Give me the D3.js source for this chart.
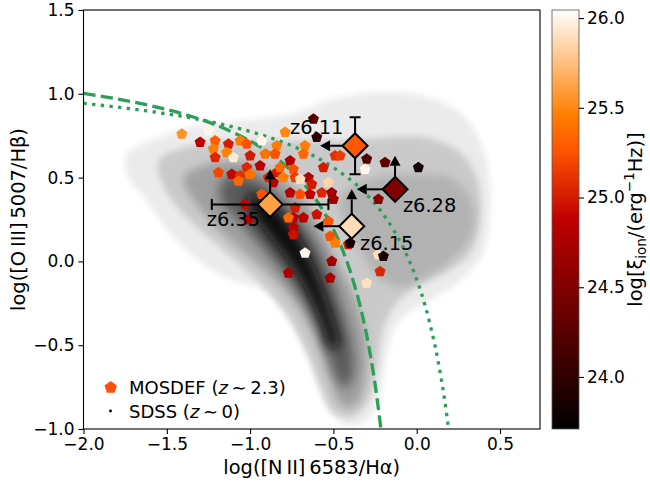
<!DOCTYPE html>
<html><head><meta charset="utf-8">
<script src="https://cdn.jsdelivr.net/npm/d3@7"></script>
<style>body{margin:0;background:#fff} text{font-family:"DejaVu Sans",sans-serif;fill:#000}</style>
</head><body><svg id="c" width="650" height="481"></svg>
<script>
// ---------------- data ----------------
const xTicks = [-2.0, -1.5, -1.0, -0.5, 0.0, 0.5];
const yTicks = [-1.0, -0.5, 0.0, 0.5, 1.0, 1.5];
const cbTicks = [24.0, 24.5, 25.0, 25.5, 26.0];

// MOSDEF galaxies: log NII/Ha, log OIII/Hb, log xi_ion
const mosdefX = [-1.41,-1.25,-1.30,-1.21,-1.13,-1.06,-1.02,-0.93,-0.84,-0.79,-1.22,-1.14,-1.21,-1.00,-0.91,-0.85,-1.10,-0.94,-1.02,-1.19,-1.11,-1.06,-1.07,-1.00,-0.89,-0.84,-0.67,-0.68,-0.62,-0.60,-0.49,-0.46,-0.30,-0.31,-0.19,0.01,-0.56,-0.76,-0.82,-0.74,-0.65,-0.80,-0.73,-0.70,-0.63,-0.53,-0.57,-0.51,-0.76,-0.70,-0.64,-0.86,-0.23,-0.73,-0.68,-0.74,-0.77,-0.60,-0.53,-0.74,-0.74,-0.52,-0.49,-0.41,-0.40,-0.67,-0.23,-0.20,-0.51,-0.22,-0.77,-0.52,-0.30,-1.03,-1.01,-0.93,-0.50];
const mosdefY = [0.76,0.78,0.71,0.72,0.70,0.72,0.70,0.72,0.69,0.77,0.67,0.65,0.62,0.63,0.64,0.64,0.62,0.57,0.56,0.53,0.52,0.51,0.48,0.52,0.50,0.53,0.69,0.64,0.85,0.74,0.63,0.63,0.61,0.55,0.59,0.56,0.56,0.60,0.56,0.55,0.50,0.50,0.50,0.49,0.46,0.47,0.41,0.41,0.41,0.40,0.40,0.47,0.37,0.32,0.26,0.26,0.26,0.28,0.24,0.20,0.16,0.15,0.11,0.10,0.11,0.05,0.04,0.03,0.00,-0.06,-0.07,-0.10,-0.13,0.34,0.25,0.40,0.37];
const mosdefXi = [25.55,26.0,24.85,25.3,25.0,25.45,25.25,26.0,25.45,25.5,25.45,25.45,25.05,25.0,25.4,25.25,25.95,24.85,25.05,25.2,24.9,25.1,25.35,25.4,25.05,25.0,25.45,25.35,24.25,24.0,25.1,25.15,24.2,26.0,24.3,23.85,25.0,24.8,25.35,25.25,24.8,25.45,25.15,25.9,25.0,25.85,25.05,24.7,24.8,25.25,24.85,24.85,24.55,25.0,24.85,24.8,25.35,24.95,25.25,24.8,24.95,25.25,25.45,25.0,23.85,26.0,25.9,23.85,24.7,25.05,24.75,24.7,25.9,24.9,24.85,25.25,24.7];

// z~6 galaxies
const hzNames = ["z6.11", "z6.28", "z6.35", "z6.15"];
const hzX = [-0.37, -0.13, -0.88, -0.39];
const hzY = [0.69, 0.43, 0.34, 0.21];
const hzXi = [25.28, 24.5, 25.62, 25.88];
const hzXerr = [0, 0, 0.35, 0];
const hzYerr = [0.17, 0, 0, 0];
const hzXlimTip = [-0.58, -0.36, null, -0.62];   // upper limits in NII/Ha
const hzYlimTip = [null, 0.63, 0.55, 0.43];      // lower limits in OIII/Hb
const hzLabelX = [-0.76, -0.083, -1.26, -0.34];
const hzLabelY = [0.76, 0.295, 0.211, 0.068];

// Kauffmann+03 (dashed) and Kewley+01 (dotted) demarcation curves
const kaufX = [-2.0,-1.8,-1.6,-1.4,-1.2,-1.0,-0.9,-0.8,-0.7,-0.6,-0.5,-0.45,-0.4,-0.35,-0.325,-0.3,-0.275,-0.25,-0.23,-0.215];
const kaufY = [1.002,0.970,0.930,0.879,0.812,0.719,0.658,0.582,0.487,0.362,0.191,0.080,-0.056,-0.225,-0.327,-0.443,-0.577,-0.733,-0.879,-1.0];
const kewX = [-2.0,-1.8,-1.6,-1.4,-1.2,-1.0,-0.8,-0.6,-0.4,-0.3,-0.2,-0.1,-0.05,0.0,0.05,0.1,0.125,0.15,0.17,0.19];
const kewY = [0.943,0.921,0.895,0.864,0.825,0.775,0.710,0.620,0.489,0.398,0.280,0.120,0.017,-0.108,-0.262,-0.459,-0.578,-0.716,-0.843,-0.99];

// SDSS density cloud: iso-density outlines (data coords) and their grey levels
const sdssLevelGrey = ["#ebebeb", "#cacaca", "#b2b2b2", "#a0a0a0", "#5a5a5a", "#0e0e0e"];
const sdssLevel0 = [[-1.74,0.64],[-1.55,0.74],[-1.35,0.80],[-1.05,0.84],[-0.75,0.88],[-0.50,0.97],[-0.20,1.01],[0.10,0.97],[0.30,0.85],[0.42,0.60],[0.44,0.30],[0.40,0.05],[0.28,-0.10],[0.10,-0.22],[-0.10,-0.35],[-0.18,-0.55],[-0.22,-0.80],[-0.30,-0.95],[-0.42,-0.98],[-0.55,-0.85],[-0.62,-0.60],[-0.72,-0.40],[-0.90,-0.18],[-1.14,-0.10],[-1.30,0.00],[-1.48,0.17],[-1.62,0.36],[-1.74,0.52]];
const sdssLevel1 = [[-1.55,0.60],[-1.30,0.70],[-1.00,0.72],[-0.70,0.72],[-0.45,0.72],[-0.20,0.74],[0.05,0.74],[0.25,0.66],[0.36,0.50],[0.38,0.25],[0.32,0.05],[0.18,-0.06],[0.00,-0.15],[-0.12,-0.25],[-0.20,-0.40],[-0.24,-0.65],[-0.30,-0.85],[-0.40,-0.93],[-0.50,-0.90],[-0.58,-0.75],[-0.66,-0.55],[-0.78,-0.32],[-0.95,-0.12],[-1.15,0.06],[-1.38,0.26],[-1.52,0.45]];
const sdssLevel2 = [[-0.45,0.40],[-0.25,0.50],[0.00,0.52],[0.20,0.50],[0.32,0.38],[0.34,0.20],[0.25,0.05],[0.08,-0.08],[-0.08,-0.15],[-0.20,-0.12],[-0.30,0.00],[-0.38,0.15],[-0.45,0.28]];
const sdssLevel3 = [[-1.40,0.50],[-1.15,0.60],[-0.90,0.55],[-0.70,0.40],[-0.58,0.20],[-0.48,0.00],[-0.38,-0.20],[-0.31,-0.45],[-0.31,-0.70],[-0.37,-0.86],[-0.45,-0.86],[-0.52,-0.70],[-0.58,-0.52],[-0.68,-0.32],[-0.82,-0.14],[-1.00,0.02],[-1.20,0.20],[-1.35,0.38]];
const sdssLevel4 = [[-1.15,0.50],[-0.98,0.50],[-0.82,0.38],[-0.68,0.22],[-0.56,0.02],[-0.47,-0.22],[-0.40,-0.45],[-0.38,-0.66],[-0.43,-0.76],[-0.49,-0.68],[-0.55,-0.50],[-0.64,-0.30],[-0.76,-0.12],[-0.90,0.05],[-1.05,0.22],[-1.18,0.38]];
const sdssLevel5 = [[-1.02,0.40],[-0.90,0.36],[-0.76,0.22],[-0.66,0.06],[-0.57,-0.15],[-0.50,-0.36],[-0.47,-0.50],[-0.52,-0.52],[-0.57,-0.38],[-0.64,-0.22],[-0.74,-0.04],[-0.86,0.12],[-0.98,0.28]];
const sdssLevels = [sdssLevel0, sdssLevel1, sdssLevel2, sdssLevel3, sdssLevel4, sdssLevel5];
const sdssBlur = [3, 3, 4, 4, 6, 6];

// ---------------- drawing ----------------
const svg = d3.select("#c");
const L = 83.5, R = 540, T = 10, B = 429;
const x = d3.scaleLinear().domain([-2, 0.74]).range([L, R]);
const y = d3.scaleLinear().domain([-1, 1.5]).range([B, T]);
const cbMin = 23.71, cbMax = 26.045;
const cbY = d3.scaleLinear().domain([cbMin, cbMax]).range([B, T]);
function heat(v) {
  let t = Math.max(0, Math.min(1, (v - cbMin) / (cbMax - cbMin)));
  const c = a => Math.round(255 * Math.max(0, Math.min(1, a)));
  return d3.rgb(c(1.5 * t), c(2 * t - 1), c(4 * t - 3)).toString();
}
const defs = svg.append("defs");
defs.append("clipPath").attr("id", "clip").append("rect")
  .attr("x", L).attr("y", T).attr("width", R - L).attr("height", B - T);
sdssBlur.forEach((b, i) => {
  defs.append("filter").attr("id", "bl" + i).attr("x", "-20%").attr("y", "-20%").attr("width", "140%").attr("height", "140%")
    .append("feGaussianBlur").attr("stdDeviation", b);
});

const plot = svg.append("g").attr("clip-path", "url(#clip)");
const areaLine = d3.line().x(d => x(d[0])).y(d => y(d[1])).curve(d3.curveCatmullRomClosed);
sdssLevels.forEach((poly, i) => {
  plot.append("path").attr("d", areaLine(poly)).attr("fill", sdssLevelGrey[i])
    .attr("filter", `url(#bl${i})`);
});

const green = "#2b9f58";
const ln = d3.line().x(d => x(d[0])).y(d => y(d[1])).curve(d3.curveCatmullRom);
plot.append("path").attr("d", ln(kaufX.map((v, i) => [v, kaufY[i]])))
  .attr("fill", "none").attr("stroke", green).attr("stroke-width", 3.3).attr("stroke-dasharray", "12.2,5.3");
plot.append("path").attr("d", ln(kewX.map((v, i) => [v, kewY[i]])))
  .attr("fill", "none").attr("stroke", green).attr("stroke-width", 3.3).attr("stroke-dasharray", "3.3,5.4");

function pent(r) {
  const p = [];
  for (let k = 0; k < 5; k++) { const a = -Math.PI / 2 + k * 2 * Math.PI / 5; p.push([r * Math.cos(a), r * Math.sin(a)]); }
  return "M" + p.map(q => q.join(",")).join("L") + "Z";
}
const pentPath = pent(5.8);
mosdefX.forEach((v, i) => {
  plot.append("path").attr("d", pentPath)
    .attr("transform", `translate(${x(v)},${y(mosdefY[i])})`)
    .attr("fill", heat(mosdefXi[i]));
});

// high-z objects
function arrow(g, x0, y0, x1, y1) {
  const dx = x1 - x0, dy = y1 - y0, len = Math.hypot(dx, dy);
  const ux = dx / len, uy = dy / len, hl = 10, hw = 5.5;
  const bx = x1 - ux * hl, by = y1 - uy * hl;
  g.append("line").attr("x1", x0).attr("y1", y0).attr("x2", bx).attr("y2", by)
    .attr("stroke", "#000").attr("stroke-width", 2);
  g.append("path").attr("d", `M${x1},${y1}L${bx - uy * hw},${by + ux * hw}L${bx + uy * hw},${by - ux * hw}Z`).attr("fill", "#000");
}
const hz = svg.append("g");
hzNames.forEach((n, i) => {
  const cx = x(hzX[i]), cy = y(hzY[i]);
  if (hzXerr[i]) {
    const a = x(hzX[i] - hzXerr[i]), b = x(hzX[i] + hzXerr[i]);
    hz.append("line").attr("x1", a).attr("x2", b).attr("y1", cy).attr("y2", cy).attr("stroke", "#000").attr("stroke-width", 2);
    [a, b].forEach(e => hz.append("line").attr("x1", e).attr("x2", e).attr("y1", cy - 5.5).attr("y2", cy + 5.5).attr("stroke", "#000").attr("stroke-width", 2));
  }
  if (hzYerr[i]) {
    const a = y(hzY[i] - hzYerr[i]), b = y(hzY[i] + hzYerr[i]);
    hz.append("line").attr("x1", cx).attr("x2", cx).attr("y1", a).attr("y2", b).attr("stroke", "#000").attr("stroke-width", 2);
    [a, b].forEach(e => hz.append("line").attr("y1", e).attr("y2", e).attr("x1", cx - 5.5).attr("x2", cx + 5.5).attr("stroke", "#000").attr("stroke-width", 2));
  }
  if (hzXlimTip[i] !== null) arrow(hz, cx, cy, x(hzXlimTip[i]), cy);
  if (hzYlimTip[i] !== null) arrow(hz, cx, cy, cx, y(hzYlimTip[i]));
});
hzNames.forEach((n, i) => {
  const cx = x(hzX[i]), cy = y(hzY[i]), s = 12.5;
  hz.append("path").attr("d", `M${cx},${cy - s}L${cx + s},${cy}L${cx},${cy + s}L${cx - s},${cy}Z`)
    .attr("fill", heat(hzXi[i])).attr("stroke", "#000").attr("stroke-width", 2).attr("stroke-linejoin", "miter");
  hz.append("text").attr("x", x(hzLabelX[i])).attr("y", y(hzLabelY[i])).attr("font-size", 19.4).text(n);
});

// frame + axes
svg.append("rect").attr("x", L).attr("y", T).attr("width", R - L).attr("height", B - T)
  .attr("fill", "none").attr("stroke", "#000").attr("stroke-width", 1.1);
const fmt = d3.format(".1f");
const xa = svg.append("g").attr("transform", `translate(0,${B})`)
  .call(d3.axisBottom(x).tickValues(xTicks).tickFormat(fmt).tickSize(5).tickPadding(4));
const ya = svg.append("g").attr("transform", `translate(${L},0)`)
  .call(d3.axisLeft(y).tickValues(yTicks).tickFormat(fmt).tickSize(5).tickPadding(4));
[xa, ya].forEach(a => {
  a.select(".domain").remove();
  a.selectAll("line").attr("stroke", "#000").attr("stroke-width", 1.1);
  a.selectAll("text").attr("font-size", 17).attr("font-family", "DejaVu Sans").attr("fill", "#000");
});

svg.append("text").attr("x", (L + R) / 2).attr("y", 474).attr("text-anchor", "middle").attr("font-size", 19.4)
  .text("log([N\u2009II]\u20096583/H\u03b1)");
svg.append("text").attr("transform", `translate(25,${(T + B) / 2}) rotate(-90)`).attr("text-anchor", "middle").attr("font-size", 19.4)
  .text("log([O\u2009III]\u20095007/H\u03b2)");

// legend
svg.append("path").attr("d", pent(6.5)).attr("transform", "translate(110.7,387.5)").attr("fill", "#ff4f0a");
svg.append("circle").attr("cx", 110.5).attr("cy", 411).attr("r", 1.4).attr("fill", "#000");
const lg1 = svg.append("text").attr("x", 129).attr("y", 394).attr("font-size", 18);
lg1.append("tspan").text("MOSDEF (");
lg1.append("tspan").attr("font-style", "italic").text("z");
lg1.append("tspan").text("\u2009\u223c\u20092.3)");
const lg2 = svg.append("text").attr("x", 129).attr("y", 417.5).attr("font-size", 18);
lg2.append("tspan").text("SDSS (");
lg2.append("tspan").attr("font-style", "italic").text("z");
lg2.append("tspan").text("\u2009\u223c\u20090)");

// colorbar
const cbx0 = 552, cbx1 = 579;
const grad = defs.append("linearGradient").attr("id", "cbg").attr("x1", 0).attr("y1", 1).attr("x2", 0).attr("y2", 0);
d3.range(0, 1.0001, 0.02).forEach(t => grad.append("stop").attr("offset", t).attr("stop-color", heat(cbMin + t * (cbMax - cbMin))));
svg.append("rect").attr("x", cbx0).attr("y", T).attr("width", cbx1 - cbx0).attr("height", B - T).attr("fill", "url(#cbg)")
  .attr("stroke", "#555").attr("stroke-width", 0.8);
const cba = svg.append("g").attr("transform", `translate(${cbx1},0)`)
  .call(d3.axisRight(cbY).tickValues(cbTicks).tickFormat(fmt).tickSize(5).tickPadding(3));
cba.select(".domain").remove();
cba.selectAll("line").attr("stroke", "#000").attr("stroke-width", 1.1);
cba.selectAll("text").attr("font-size", 17).attr("font-family", "DejaVu Sans").attr("fill", "#000");

const cl = svg.append("text").attr("transform", `translate(642,${(T + B) / 2}) rotate(-90)`).attr("text-anchor", "middle").attr("font-size", 19.4);
cl.append("tspan").text("log[\u03be");
cl.append("tspan").attr("font-size", 13.5).attr("dy", 4).text("ion");
cl.append("tspan").attr("dy", -4).text("/(erg");
cl.append("tspan").attr("font-size", 13.5).attr("dy", -8).text("\u22121");
cl.append("tspan").attr("dy", 8).text("Hz)]");
</script></body></html>
